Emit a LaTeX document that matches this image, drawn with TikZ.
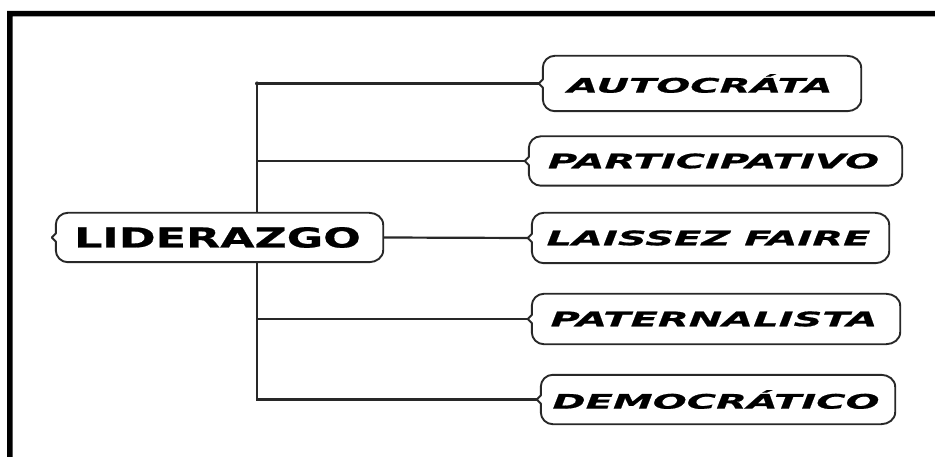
\documentclass[tikz,border=0pt]{standalone}
\usepackage{fontspec}
\usetikzlibrary{calc}
\newfontfamily\childfont[FakeStretch=2.0,FakeBold=0.8]{DejaVu Sans}
\newfontfamily\rootfont[FakeStretch=1.62,FakeBold=0.8]{DejaVu Sans}
\definecolor{linegray}{RGB}{40,40,40}
\tikzset{
  slot/.style={draw=none, inner sep=0pt},
  childtext/.style={draw=none, inner sep=0pt, font=\childfont\bfseries\itshape\fontsize{20}{22}\selectfont, text=black},
  roottext/.style={draw=none, inner sep=0pt, font=\rootfont\bfseries\fontsize{27.4}{30}\selectfont, text=black},
  boxline/.style={draw=linegray, line width=1.9pt, fill=white, line join=round},
  conn/.style={draw=linegray, line width=2.2pt},
  framefill/.style={fill=black}
}
\newcommand{\bracebox}[1]{%
  \path[boxline] ([xshift=16pt]#1.north west) -- ([xshift=-14pt]#1.north east)
    to[out=0,in=90] ([yshift=-12pt]#1.north east) -- ([yshift=12pt]#1.south east)
    to[out=-90,in=0] ([xshift=-14pt]#1.south east) -- ([xshift=16pt]#1.south west)
    to[out=180,in=-90] ([xshift=4pt,yshift=12pt]#1.south west)
    -- ([xshift=4pt,yshift=-4pt]#1.west) -- (#1.west) -- ([xshift=4pt,yshift=4pt]#1.west)
    -- ([xshift=4pt,yshift=-12pt]#1.north west)
    to[out=90,in=180] cycle;}
\begin{document}
\begin{tikzpicture}[x=1pt,y=-1pt]
\useasboundingbox (0,0) rectangle (935,457);
\fill[framefill] (7,457) -- (7,11) -- (935,11) -- (935,16.5) -- (12.5,16.5) -- (12.5,457) -- cycle;

% box slots
\node[slot, minimum width=331pt, minimum height=49pt] (root) at (217.5,237.5) {};
\node[slot, minimum width=322pt, minimum height=55pt] (a) at (700,83.5) {};
\node[slot, minimum width=377pt, minimum height=49pt] (b) at (713.5,161) {};
\node[slot, minimum width=361pt, minimum height=50pt] (c) at (708.5,238) {};
\node[slot, minimum width=372pt, minimum height=50pt] (d) at (714,319) {};
\node[slot, minimum width=358pt, minimum height=49pt] (e) at (716,399.5) {};
\coordinate (tr) at (257,0);

% connectors
\draw[conn] (a.west) -- (a.west -| tr) -- (e.west -| tr) -- (e.west);
\draw[conn] (b.west) -- (b.west -| tr);
\draw[conn] (d.west) -- (d.west -| tr);
\draw[conn] (root.east) -- (c.west);
\fill[linegray] (a.west -| tr) circle (2pt);

% boxes
\bracebox{root}
\bracebox{a}
\bracebox{b}
\bracebox{c}
\bracebox{d}
\bracebox{e}

% texts
\node[roottext] (roott) at (root) {LIDERAZGO};
\node[childtext] (at) at (a) {AUTOCRÁTA};
\node[childtext] (bt) at (b) {PARTICIPATIVO};
\node[childtext] (ct) at (c) {LAISSEZ FAIRE};
\node[childtext] (dt) at (d) {PATERNALISTA};
\node[childtext] (et) at (e) {DEMOCRÁTICO};
\end{tikzpicture}
\end{document}
